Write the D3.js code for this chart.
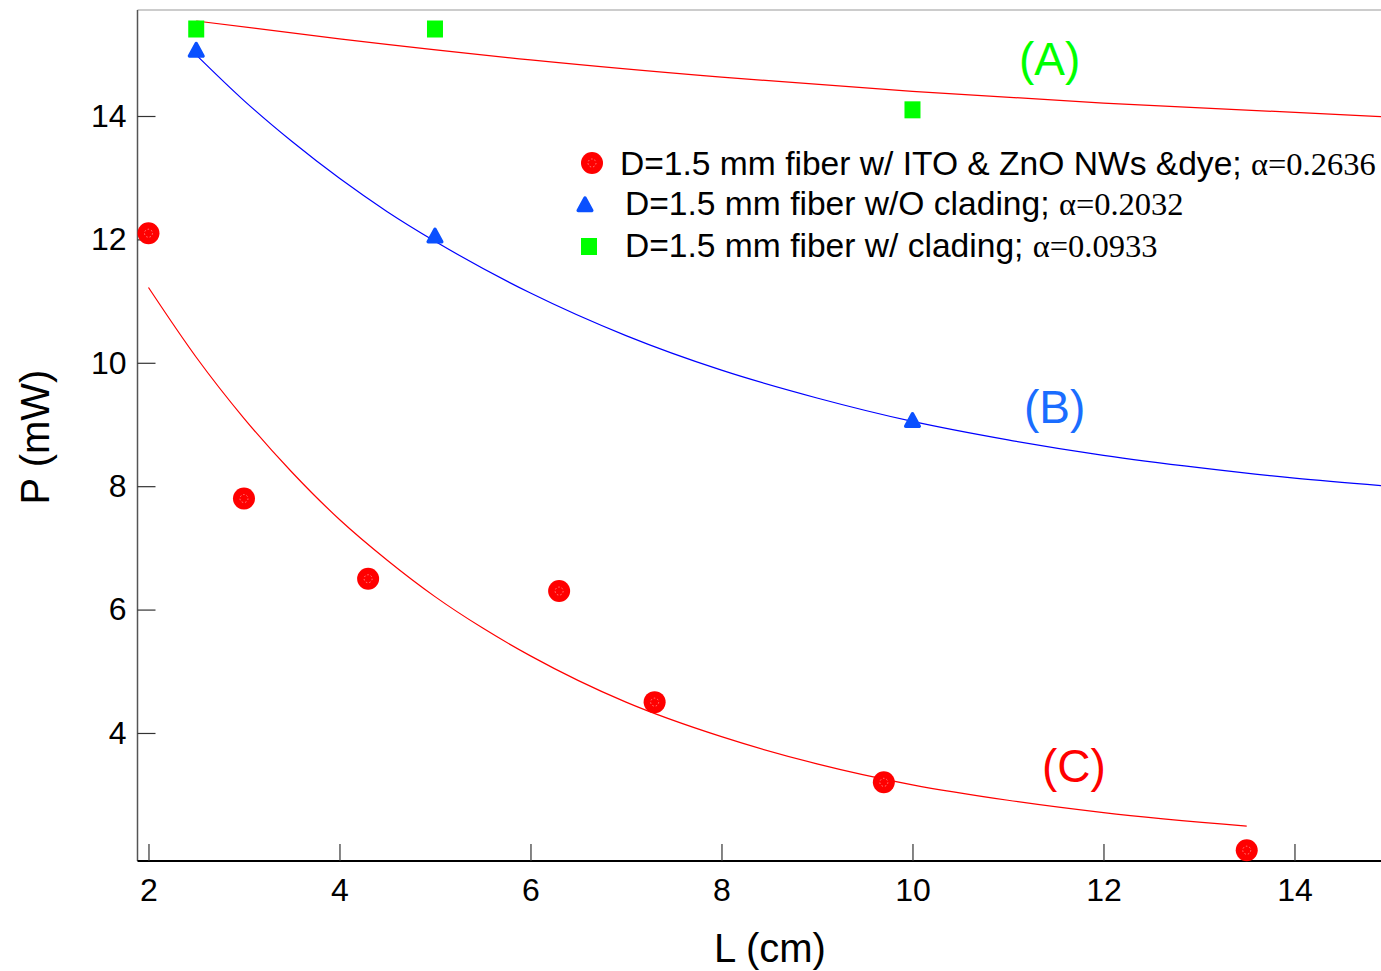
<!DOCTYPE html>
<html><head><meta charset="utf-8">
<script src="https://cdn.jsdelivr.net/npm/d3@7"></script>
<style>body{margin:0;background:#fff}svg{display:block}</style>
</head><body><svg id="chart" width="1381" height="971"></svg>
<script>
// ---- data ----
const xTicks = [2, 4, 6, 8, 10, 12, 14];
const yTicks = [4, 6, 8, 10, 12, 14];
const xExtent = [1.885, 14.906];
const yExtent = [1.925, 15.718];

// measured points
const seriesC_L = [2, 3, 4.3, 6.3, 7.3, 9.7, 13.5];
const seriesC_P = [12.1, 7.8, 6.5, 6.3, 4.5, 3.2, 2.1];
const seriesB_L = [2.5, 5, 10, 15];
const seriesB_P = [15.06, 12.05, 9.06, 7.95];
const seriesA_L = [2.5, 5, 10];
const seriesA_P = [15.41, 15.41, 14.1];

// fitted curves
const fitC_L = [2, 2.5, 3, 3.5, 4, 4.5, 5, 5.5, 6, 7, 8, 9, 10, 11, 12, 13.5];
const fitC_P = [11.22, 10.09, 9.10, 8.23, 7.46, 6.80, 6.21, 5.70, 5.25, 4.50, 3.94, 3.50, 3.16, 2.91, 2.71, 2.49];
const fitB_L = [2.48, 3, 3.5, 4, 4.5, 5, 6, 7, 8, 9, 10, 11, 12, 13, 14, 14.91];
const fitB_P = [15.02, 14.25, 13.59, 12.99, 12.45, 11.97, 11.13, 10.44, 9.88, 9.43, 9.05, 8.75, 8.50, 8.30, 8.13, 8.01];
const fitA_L = [2.5, 4, 6, 8, 10, 12, 14.91];
const fitA_P = [15.54, 15.25, 14.91, 14.63, 14.40, 14.21, 13.99];

const legendLabels = [
  ["D=1.5 mm fiber w/ ITO & ZnO NWs &dye; ", "\u03B1=0.2636"],
  ["D=1.5 mm fiber w/O clading; ", "\u03B1=0.2032"],
  ["D=1.5 mm fiber w/ clading; ", "\u03B1=0.0933"]
];

// ---- drawing ----
const svg = d3.select("#chart");
const SANS = "'Liberation Sans', Arial, sans-serif";
const SERIF = "'Liberation Serif', 'Times New Roman', serif";

const x = d3.scaleLinear().domain(xExtent).range([137.5, 1381]);
const y = d3.scaleLinear().domain(yExtent).range([861, 10]);

// frame
svg.append("line").attr("x1", 137.5).attr("x2", 1381).attr("y1", 10).attr("y2", 10)
  .attr("stroke", "#9a9a9a").attr("stroke-width", 1.2);
svg.append("line").attr("x1", 137.5).attr("x2", 137.5).attr("y1", 10).attr("y2", 861)
  .attr("stroke", "#555").attr("stroke-width", 1.5);
svg.append("line").attr("x1", 137.5).attr("x2", 1381).attr("y1", 861).attr("y2", 861)
  .attr("stroke", "#000").attr("stroke-width", 2);

const gx = svg.append("g").attr("transform", "translate(0,861)")
  .call(d3.axisBottom(x).tickValues(xTicks).tickSize(-17).tickPadding(17).tickFormat(d3.format("d")));
const gy = svg.append("g").attr("transform", "translate(137.5,0)")
  .call(d3.axisLeft(y).tickValues(yTicks).tickSize(-18).tickPadding(11).tickFormat(d3.format("d")));
[gx, gy].forEach(g => {
  g.select(".domain").remove();
  g.selectAll(".tick line").attr("stroke", "#333").attr("stroke-width", 1.2);
  g.selectAll(".tick text").attr("fill", "#000").style("font-family", SANS).style("font-size", "32px");
});

// axis titles
svg.append("text").attr("x", 770).attr("y", 962).attr("text-anchor", "middle")
  .style("font-family", SANS).style("font-size", "40px").text("L (cm)");
svg.append("text").attr("transform", "translate(49,437) rotate(-90)").attr("text-anchor", "middle")
  .style("font-family", SANS).style("font-size", "40px").text("P (mW)");

// fitted lines
const zip = (a, b) => a.map((v, i) => [v, b[i]]);
const line = d3.line().x(d => x(d[0])).y(d => y(d[1])).curve(d3.curveMonotoneX);
svg.append("path").datum(zip(fitA_L, fitA_P)).attr("d", line)
  .attr("fill", "none").attr("stroke", "#ff0000").attr("stroke-width", 1.2);
svg.append("path").datum(zip(fitB_L, fitB_P)).attr("d", line)
  .attr("fill", "none").attr("stroke", "#0000ff").attr("stroke-width", 1.2);
svg.append("path").datum(zip(fitC_L, fitC_P)).attr("d", line)
  .attr("fill", "none").attr("stroke", "#ff0000").attr("stroke-width", 1.2);

// markers
const RED = "#ff0000", BLUE = "#0a50ff", GREEN = "#00ff00";
function circleMarker(g, cx, cy) {
  g.append("circle").attr("cx", cx).attr("cy", cy).attr("r", 11).attr("fill", RED);
  g.append("circle").attr("cx", cx).attr("cy", cy).attr("r", 4).attr("fill", "none")
    .attr("stroke", "#fff").attr("stroke-opacity", 0.6).attr("stroke-width", 0.8).attr("stroke-dasharray", "1.5,2");
}
function triMarker(g, cx, cy) {
  const p = d3.path();
  p.moveTo(cx, cy - 7); p.lineTo(cx + 6.8, cy + 5.5); p.lineTo(cx - 6.8, cy + 5.5); p.closePath();
  g.append("path").attr("d", p.toString()).attr("fill", BLUE).attr("stroke", BLUE)
    .attr("stroke-width", 3.5).attr("stroke-linejoin", "round");
}
function sqMarker(g, cx, cy) {
  g.append("rect").attr("x", cx - 8).attr("y", cy - 8.5).attr("width", 16).attr("height", 17).attr("fill", GREEN);
}

const mk = svg.append("g");
seriesC_L.forEach((L, i) => circleMarker(mk, x(L), y(seriesC_P[i])));
seriesB_L.forEach((L, i) => triMarker(mk, x(L), y(seriesB_P[i])));
seriesA_L.forEach((L, i) => sqMarker(mk, x(L), y(seriesA_P[i])));

// legend
const leg = svg.append("g");
const legRows = [
  { mx: 592, my: 163, tx: 620, ty: 175, draw: circleMarker },
  { mx: 585, my: 205, tx: 625, ty: 215, draw: triMarker },
  { mx: 589, my: 246.5, tx: 625, ty: 257, draw: sqMarker }
];
legRows.forEach((r, i) => {
  r.draw(leg, r.mx, r.my);
  const t = leg.append("text").attr("x", r.tx).attr("y", r.ty);
  t.append("tspan").style("font-family", SANS).style("font-size", "33.6px").text(legendLabels[i][0]);
  t.append("tspan").style("font-family", SERIF).style("font-size", "32.5px").text(legendLabels[i][1]);
});

// curve annotations
svg.append("text").attr("x", 1019).attr("y", 75).style("font-family", SANS).style("font-size", "46px")
  .attr("fill", GREEN).text("(A)");
svg.append("text").attr("x", 1024).attr("y", 423).style("font-family", SANS).style("font-size", "46px")
  .attr("fill", "#1a6dff").text("(B)");
svg.append("text").attr("x", 1042).attr("y", 782).style("font-family", SANS).style("font-size", "46px")
  .attr("fill", RED).text("(C)");
</script>
</body></html>
